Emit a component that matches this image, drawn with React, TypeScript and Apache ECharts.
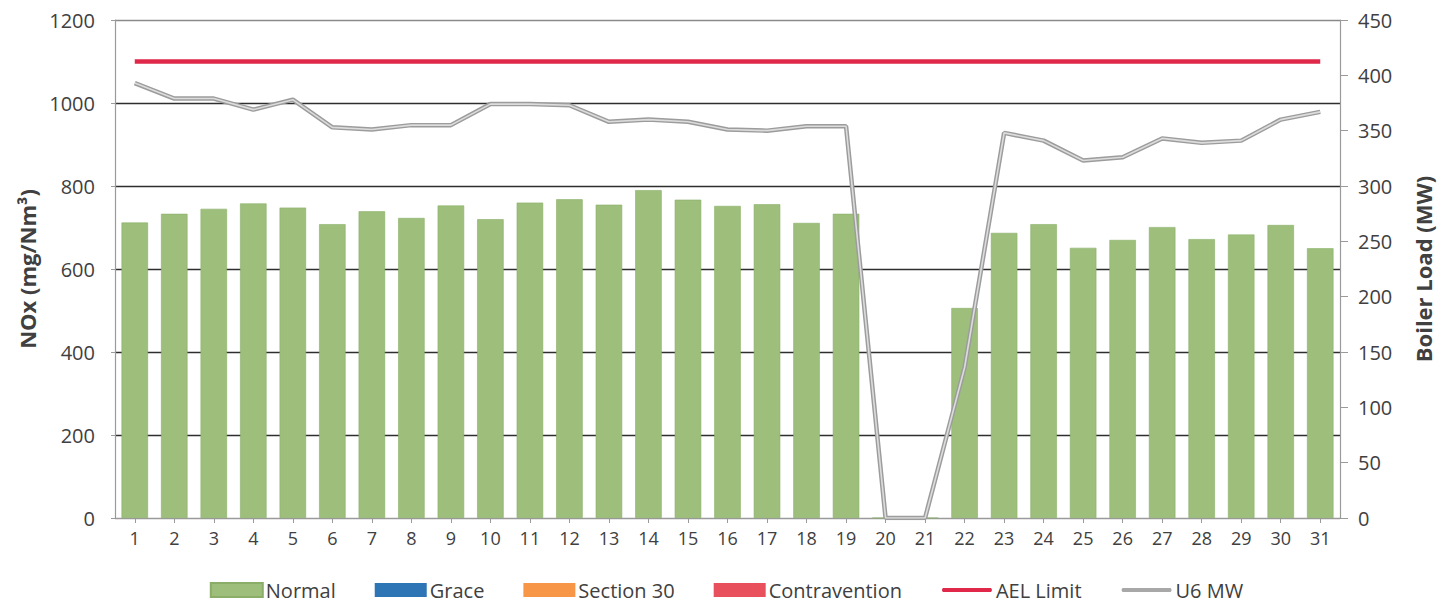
import React, { useEffect, useRef } from "react";
import * as echarts from "echarts";

const days = ["1","2","3","4","5","6","7","8","9","10","11","12","13","14","15","16","17","18","19","20","21","22","23","24","25","26","27","28","29","30","31"];
const normal = [712,733,745,758,748,708,739,723,753,720,760,768,755,790,767,752,756,711,733,0,0,506,687,708,651,670,701,672,683,706,650];
const grace = [0,0,0,0,0,0,0,0,0,0,0,0,0,0,0,0,0,0,0,0,0,0,0,0,0,0,0,0,0,0,0];
const section30 = [0,0,0,0,0,0,0,0,0,0,0,0,0,0,0,0,0,0,0,0,0,0,0,0,0,0,0,0,0,0,0];
const contravention = [0,0,0,0,0,0,0,0,0,0,0,0,0,0,0,0,0,0,0,0,0,0,0,0,0,0,0,0,0,0,0];
const aelLimit = [1100,1100,1100,1100,1100,1100,1100,1100,1100,1100,1100,1100,1100,1100,1100,1100,1100,1100,1100,1100,1100,1100,1100,1100,1100,1100,1100,1100,1100,1100,1100];
const u6MW = [393,379,379,369,378,353,351,355,355,374,374,373,358,360,358,351,350,354,354,0,0,136,348,341,323,326,343,339,341,360,367];

const FONT = "'Open Sans', 'Noto Sans', sans-serif";
const TXT = "#404040";
const LINE_ICON = "path://M0,0 M52,14 M2,5 L50,5 Q52,7 50,9 L2,9 Q0,7 2,5 Z";

export default function App() {
  const ref = useRef<HTMLDivElement>(null);
  useEffect(() => {
    if (!ref.current) return;
    const chart = echarts.init(ref.current, null, { renderer: "svg" });
    chart.setOption({
      animation: false,
      backgroundColor: "#ffffff",
      textStyle: { fontFamily: FONT, color: TXT },
      grid: { left: 115, right: 113, top: 20, bottom: 84, containLabel: false },
      legend: {
        top: 575,
        left: "center",
        itemWidth: 52,
        itemHeight: 14,
        itemGap: 39,
        textStyle: { fontFamily: FONT, fontSize: 20, color: TXT, padding: [0, 0, 0, -2] },
        data: [
          { name: "Normal", icon: "rect" },
          { name: "Grace", icon: "rect" },
          { name: "Section 30", icon: "rect" },
          { name: "Contravention", icon: "rect" },
          { name: "AEL Limit", icon: LINE_ICON },
          { name: "U6 MW", icon: LINE_ICON },
        ],
      },
      xAxis: {
        type: "category",
        data: days,
        boundaryGap: true,
        axisLine: { lineStyle: { color: "#9a9a9a", width: 1.2 } },
        axisTick: { show: true, alignWithLabel: true, length: 5, lineStyle: { color: "#9a9a9a" } },
        axisLabel: { fontSize: 18, color: TXT, margin: 11, fontFamily: FONT, interval: 0 },
      },
      yAxis: [
        {
          type: "value",
          min: 0,
          max: 1200,
          interval: 200,
          name: "NOx (mg/Nm³)",
          nameLocation: "middle",
          nameGap: 76,
          nameTextStyle: { fontSize: 22, fontWeight: "bold", color: TXT, fontFamily: FONT },
          axisLine: { show: true, lineStyle: { color: "#9a9a9a", width: 1.2 } },
          axisTick: { show: true, length: 4, lineStyle: { color: "#9a9a9a" } },
          axisLabel: { fontSize: 20, color: TXT, margin: 20, fontFamily: FONT, formatter: (v: number) => String(v) },
          splitLine: {
            show: true,
            lineStyle: { color: ["#9a9a9a", "#2e2e2e", "#2e2e2e", "#2e2e2e", "#2e2e2e", "#2e2e2e", "#8a8a8a"], width: 1.3 },
          },
        },
        {
          type: "value",
          min: 0,
          max: 450,
          interval: 50,
          position: "right",
          name: "Boiler Load (MW)",
          nameLocation: "middle",
          nameGap: 72,
          nameRotate: 90,
          nameTextStyle: { fontSize: 22, fontWeight: "bold", color: TXT, fontFamily: FONT },
          axisLine: { show: true, lineStyle: { color: "#9a9a9a", width: 1.2 } },
          axisTick: { show: true, length: 8, lineStyle: { color: "#9a9a9a" } },
          axisLabel: { fontSize: 20, color: TXT, margin: 18, fontFamily: FONT },
          splitLine: { show: false },
        },
      ],
      series: [
        {
          name: "Normal",
          type: "bar",
          stack: "nox",
          data: normal,
          barCategoryGap: "33%",
          itemStyle: { color: "#9dbf7b", borderColor: "#8aae68", borderWidth: 0.6 },
        },
        { name: "Grace", type: "bar", stack: "nox", data: grace, itemStyle: { color: "#2e75b6" } },
        { name: "Section 30", type: "bar", stack: "nox", data: section30, itemStyle: { color: "#f79646" } },
        { name: "Contravention", type: "bar", stack: "nox", data: contravention, itemStyle: { color: "#e8505b" } },
        {
          name: "AEL Limit",
          type: "line",
          data: aelLimit,
          symbol: "none",
          lineStyle: { color: "#e0284a", width: 4.5 },
          itemStyle: { color: "#e0284a" },
          z: 5,
        },
        {
          name: "U6 MW",
          type: "line",
          yAxisIndex: 1,
          data: u6MW,
          symbol: "none",
          lineStyle: { color: "#9c9c9c", width: 4.5 },
          itemStyle: { color: "#a8a8a8" },
          z: 6,
        },
        {
          name: "U6 MW core",
          type: "line",
          yAxisIndex: 1,
          data: u6MW,
          symbol: "none",
          lineStyle: { color: "#dcdcdc", width: 1.6 },
          itemStyle: { color: "#dcdcdc" },
          z: 7,
          silent: true,
        },
      ],
    });
    return () => chart.dispose();
  }, []);
  return (
    <div
      ref={ref}
      style={{ position: "fixed", left: 0, top: 0, width: 1453, height: 602, background: "#fff" }}
    />
  );
}
